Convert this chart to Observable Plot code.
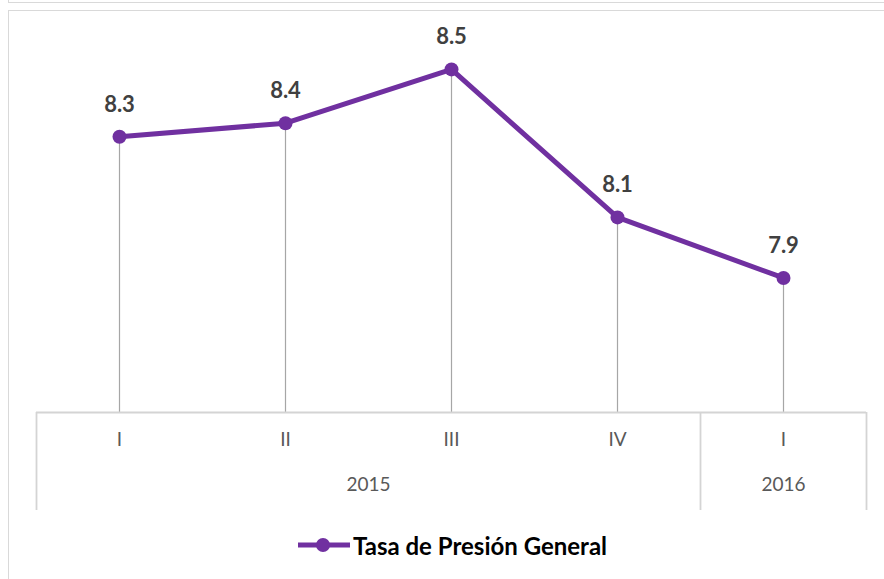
<!DOCTYPE html>
<html>
<head>
<meta charset="utf-8">
<script src="https://cdn.jsdelivr.net/npm/d3@7"></script>
<script src="https://cdn.jsdelivr.net/npm/@observablehq/plot@0.6"></script>
<style>
  html, body { margin: 0; padding: 0; background: #fff; }
  #page { position: relative; width: 884px; height: 579px; overflow: hidden; font-family: Lato, "Open Sans", sans-serif; }
  #prevbox { position: absolute; left: 8px; top: -20px; width: 900px; height: 22.5px; border: 1.5px solid #d9d9d9; box-sizing: border-box; }
  #box { position: absolute; left: 8px; top: 10px; width: 900px; height: 600px; border: 1.5px solid #d9d9d9; box-sizing: border-box; }
  #chart { position: absolute; left: 0; top: 0; }
  #legend { position: absolute; left: 298px; top: 531px; height: 28px; display: flex; align-items: center; }
  #legend span { font-weight: bold; font-size: 24px; color: #000; margin-left: 3px; }
</style>
</head>
<body>
<div id="page">
  <div id="prevbox"></div>
  <div id="box"></div>
  <div id="chart"></div>
  <div id="legend"></div>
</div>
<script>
// ---- data ----
const quarters = ["I", "II", "III", "IV", "I"];
const years = ["2015", "2015", "2015", "2015", "2016"];
const values = [8.32, 8.36, 8.52, 8.08, 7.90];
const seriesName = "Tasa de Presión General";
const yMin = 7.5, yMax = 8.6;

const purple = "#7030a0";

const data = quarters.map((q, i) => ({ i, q, year: years[i], value: values[i], label: values[i].toFixed(1) }));

// year groups
const groups = [];
data.forEach(d => {
  const g = groups.find(g => g.year === d.year);
  if (g) g.end = d.i; else groups.push({ year: d.year, start: d.i, end: d.i });
});
groups.forEach(g => g.mid = (g.start + g.end) / 2);
const bounds = [groups[0].start - 0.5, ...groups.map(g => g.end + 0.5)];

const chart = Plot.plot({
  width: 884,
  height: 510,
  marginTop: 0,
  marginBottom: 4,
  marginLeft: 0,
  marginRight: 0,
  style: { fontFamily: "Lato, 'Open Sans', sans-serif", background: "transparent" },
  x: { type: "linear", domain: [bounds[0], bounds[bounds.length - 1]], range: [36, 866], axis: null },
  y: { type: "linear", domain: [yMin, yMax], range: [412, 42], axis: null },
  marks: [
    // drop lines
    Plot.ruleX(data, { x: "i", y1: yMin, y2: "value", stroke: "#a6a6a6", strokeWidth: 1.2 }),
    // category axis box
    Plot.ruleY([yMin], { x1: bounds[0], x2: bounds[bounds.length - 1], stroke: "#d4d4d4", strokeWidth: 1.8 }),
    Plot.ruleX(bounds, { x: d => d, y1: yMin, stroke: "#d4d4d4", strokeWidth: 1.8 }),
    // tick labels
    Plot.text(data, { x: "i", text: "q", frameAnchor: "bottom", dy: -61, fontSize: 19, fill: "#595959" }),
    Plot.text(groups, { x: "mid", text: "year", frameAnchor: "bottom", dy: -16, fontSize: 19, fill: "#595959" }),
    // series
    Plot.line(data, { x: "i", y: "value", stroke: purple, strokeWidth: 5, strokeLinejoin: "round" }),
    Plot.dot(data, { x: "i", y: "value", r: 7, fill: purple, stroke: "none" }),
    Plot.text(data, { x: "i", y: "value", text: "label", dy: -25, lineAnchor: "bottom", fontSize: 22, fontWeight: "bold", fill: "#404040" })
  ]
});
document.getElementById("chart").appendChild(chart);

// legend
const lg = document.getElementById("legend");
lg.innerHTML = `<svg width="52" height="16"><line x1="0" y1="8" x2="52" y2="8" stroke="${purple}" stroke-width="5"/><circle cx="25" cy="8" r="7" fill="${purple}"/></svg><span>${seriesName}</span>`;
</script>
</body>
</html>
